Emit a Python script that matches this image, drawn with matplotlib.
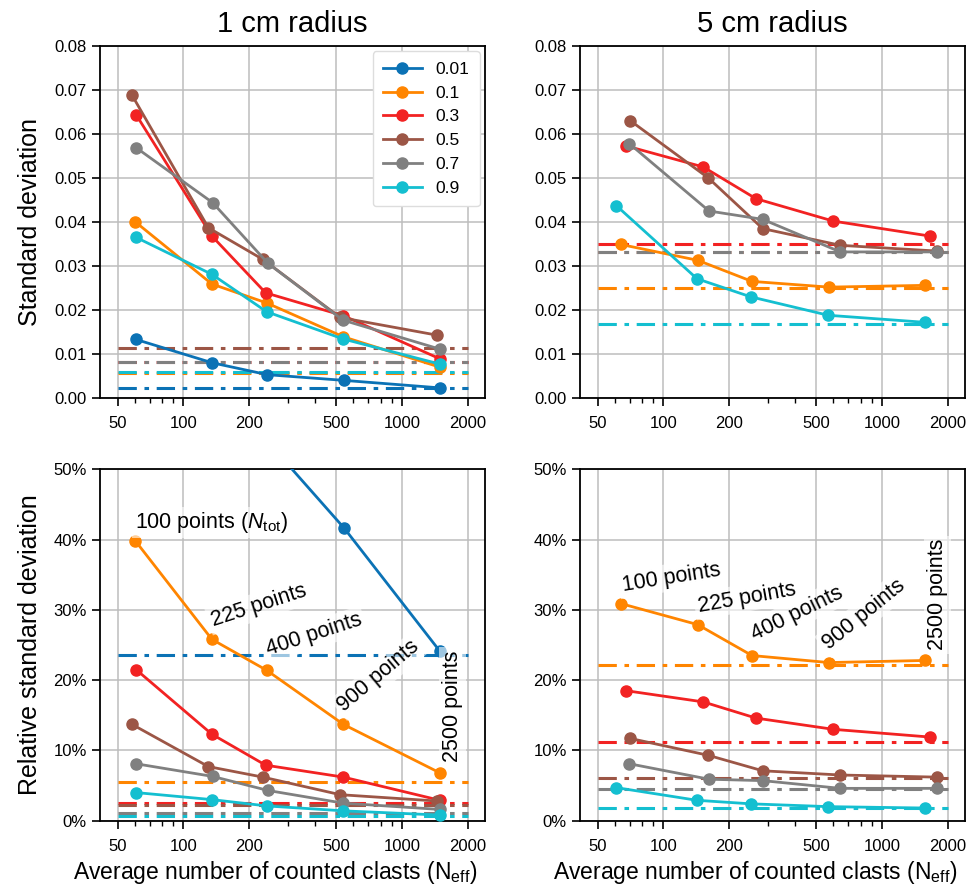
import matplotlib
matplotlib.use("Agg")
import matplotlib.pyplot as plt
from matplotlib.ticker import FixedLocator, NullFormatter, PercentFormatter

plt.rcParams['font.family'] = ['Liberation Sans', 'DejaVu Sans']
plt.rcParams['mathtext.fontset'] = 'custom'
plt.rcParams['mathtext.rm'] = 'Liberation Sans'
plt.rcParams['mathtext.it'] = 'Liberation Sans:italic'

# fraction of the target class in each series
fractions = ['0.01', '0.1', '0.3', '0.5', '0.7', '0.9']
colors = ['#0b72b5', '#ff8500', '#f22222', '#9c5646', '#808080', '#14bfd0']

# effective number of counted clasts, per series (1 cm radius)
neff_1cm = [
    [60.7, 135.5, 242, 545, 1493],
    [60.3, 135, 240.5, 540, 1493],
    [60.7, 135, 237.8, 540, 1493],
    [58.2, 130, 231, 522, 1442],
    [60.7, 136, 243.8, 537, 1493],
    [60.7, 135, 240.5, 540, 1493],
]
std_1cm = [
    [0.0133, 0.0080, 0.0053, 0.0040, 0.0023],
    [0.0400, 0.0259, 0.0216, 0.0139, 0.0070],
    [0.0644, 0.0368, 0.0239, 0.0187, 0.0089],
    [0.0688, 0.0387, 0.0315, 0.0183, 0.0143],
    [0.0569, 0.0444, 0.0306, 0.0177, 0.0111],
    [0.0365, 0.0281, 0.0196, 0.0134, 0.0077],
]
std_ref_1cm = [0.00236, 0.0056, 0.0081, 0.0113, 0.0081, 0.0060]
rel_1cm = [
    [133, 80, 54, 41.6, 24.1],
    [39.8, 25.8, 21.4, 13.7, 6.8],
    [21.5, 12.3, 7.9, 6.2, 2.9],
    [13.7, 7.7, 6.2, 3.7, 2.8],
    [8.1, 6.3, 4.3, 2.5, 1.6],
    [4.0, 3.0, 2.1, 1.4, 0.8],
]
rel_ref_1cm = [23.6, 5.5, 2.5, 2.2, 1.15, 0.66]

# 5 cm radius (no 0.01 series)
neff_5cm = [
    None,
    [63.7, 143.4, 254.2, 572, 1574],
    [67.4, 152.2, 265, 599, 1659],
    [70.6, 160.5, 284.5, 645, 1778],
    [69.8, 161.6, 284.5, 645, 1778],
    [60.9, 142.4, 250.6, 568, 1574],
]
std_5cm = [
    None,
    [0.0349, 0.0313, 0.0265, 0.0252, 0.0256],
    [0.0573, 0.0525, 0.0453, 0.0402, 0.0368],
    [0.0630, 0.0500, 0.0385, 0.0347, 0.0334],
    [0.0578, 0.0425, 0.0406, 0.0332, 0.0332],
    [0.0437, 0.0271, 0.0230, 0.0188, 0.0172],
]
std_ref_5cm = [None, 0.0251, 0.0350, 0.0331, 0.0331, 0.0169]
rel_5cm = [
    None,
    [30.9, 27.9, 23.5, 22.5, 22.8],
    [18.5, 16.9, 14.6, 13.0, 11.9],
    [11.7, 9.3, 7.1, 6.5, 6.2],
    [8.1, 5.9, 5.7, 4.6, 4.6],
    [4.7, 2.9, 2.4, 2.0, 1.8],
]
rel_ref_5cm = [None, 22.2, 11.2, 6.1, 4.5, 1.8]

# labels on the 0.1 series (number of grid points)
point_labels_1cm = ['100 points ($N_{\\rm tot}$)', '225 points', '400 points', '900 points', '2500 points']
point_labels_5cm = ['100 points', '225 points', '400 points', '900 points', '2500 points']
label_rot_1cm = [0, 18, 18, 40, 90]
label_rot_5cm = [9, 10, 26, 39, 90]

x_ticks = [50, 100, 200, 500, 1000, 2000]


def draw_panel(ax, neff, vals, refs, legend=False):
    for i in range(len(fractions)):
        if vals[i] is None:
            continue
        ax.hlines(refs[i], 50, 2000, colors=colors[i], linestyles=(0, (6, 2.5, 1.5, 2.5)),
                  linewidth=2.2, zorder=2)
    for i in range(len(fractions)):
        if vals[i] is None:
            continue
        ax.plot(neff[i], vals[i], marker='o', color=colors[i], linewidth=2,
                markersize=8, label=fractions[i], zorder=3)
    ax.set_xscale('log')
    ax.set_xlim(41.5, 2400)
    ax.xaxis.set_major_locator(FixedLocator(x_ticks))
    ax.set_xticklabels([str(t) for t in x_ticks])
    ax.xaxis.set_minor_formatter(NullFormatter())
    ax.grid(True, which='major', color='#bdbdbd', linewidth=1.1)
    ax.set_axisbelow(True)
    ax.tick_params(which='major', direction='out', length=6, width=1.2, labelsize=12)
    ax.tick_params(which='minor', direction='out', length=3.5, width=1)
    ax.tick_params(axis='x', which='major', pad=7)
    for s in ax.spines.values():
        s.set_linewidth(1.3)
    if legend:
        leg = ax.legend(loc='upper right', fontsize=12.5, handlelength=2.2,
                        borderpad=0.6, labelspacing=0.5, borderaxespad=0.3,
                        framealpha=1, edgecolor='#dddddd')
        leg.get_frame().set_linewidth(1)


def label_points(ax, neff, vals, labels, rots, offsets):
    for x, y, txt, rot, off in zip(neff, vals, labels, rots, offsets):
        va = 'top' if rot == 90 else 'bottom'
        ax.annotate(txt, (x, y), xytext=off, textcoords='offset pixels', fontsize=15.5,
                    rotation=rot, rotation_mode='anchor', ha='left', va=va, zorder=5,
                    bbox=dict(boxstyle='square,pad=0.15', fc='white', ec='none', alpha=0.6))


fig = plt.figure(figsize=(9.69, 8.88), dpi=100)
ax_tl = fig.add_axes([0.1032, 0.5518, 0.3973, 0.3964])
ax_tr = fig.add_axes([0.5986, 0.5518, 0.3973, 0.3964])
ax_bl = fig.add_axes([0.1032, 0.0758, 0.3973, 0.3957])
ax_br = fig.add_axes([0.5986, 0.0758, 0.3973, 0.3957])

draw_panel(ax_tl, neff_1cm, std_1cm, std_ref_1cm, legend=True)
draw_panel(ax_tr, neff_5cm, std_5cm, std_ref_5cm)
draw_panel(ax_bl, neff_1cm, rel_1cm, rel_ref_1cm)
draw_panel(ax_br, neff_5cm, rel_5cm, rel_ref_5cm)

for ax in (ax_tl, ax_tr):
    ax.set_ylim(0, 0.08)
    ax.set_yticks([0, 0.01, 0.02, 0.03, 0.04, 0.05, 0.06, 0.07, 0.08])
    ax.set_yticklabels(['%.2f' % v for v in ax.get_yticks()])
for ax in (ax_bl, ax_br):
    ax.set_ylim(0, 50)
    ax.set_yticks([0, 10, 20, 30, 40, 50])
    ax.yaxis.set_major_formatter(PercentFormatter(decimals=0))
    ax.set_xlabel('Average number of counted clasts (N$_{\\mathrm{eff}}$)', fontsize=16.5)
    ax.xaxis.set_label_coords(0.455, -0.11)

ax_tl.set_title('1 cm radius', fontsize=21, pad=10)
ax_tr.set_title('5 cm radius', fontsize=21, pad=10)
ax_tl.set_ylabel('Standard deviation', fontsize=18)
ax_bl.set_ylabel('Relative standard deviation', fontsize=18)
ax_tl.yaxis.set_label_coords(-0.15, 0.5)
ax_bl.yaxis.set_label_coords(-0.15, 0.5)

label_points(ax_bl, neff_1cm[1], rel_1cm[1], point_labels_1cm, label_rot_1cm,
             [(0, 6), (3, 8), (3, 10), (4, 8), (2, 11)])
label_points(ax_br, neff_5cm[1], rel_5cm[1], point_labels_5cm, label_rot_5cm,
             [(3, 8), (2, 8), (5, 11), (3, 9), (2, 10)])

fig.savefig('out.png', dpi=100)
